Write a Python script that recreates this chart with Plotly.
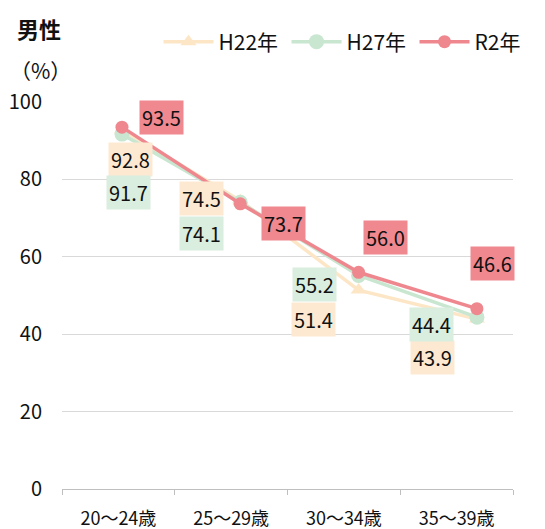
import plotly.graph_objects as go

categories = ["20～24歳", "25～29歳", "30～34歳", "35～39歳"]
series_names = ["H22年", "H27年", "R2年"]
h22 = [92.8, 74.5, 51.4, 43.9]
h27 = [91.7, 74.1, 55.2, 44.4]
r2 = [93.5, 73.7, 56.0, 46.6]
y_ticks = [0, 20, 40, 60, 80, 100]

FONT = "Noto Sans CJK JP"
line_colors = ["#fde6c6", "#c8e6d0", "#ef878f"]
box_colors = ["#fde9d2", "#d9eedf", "#f08890"]
symbols = ["triangle-up", "circle", "circle"]
msizes = [14, 15, 13]
# label offsets in pixels (x right, y up) relative to each point
offsets = [
    [(9, -30), (-39, 2), (-45, -29), (-44, -38)],
    [(7, -58), (-39, -31), (-44, -9), (-45, -7)],
    [(40, 10), (43, -20), (27, 35), (16, 45)],
]

fig = go.Figure()
idx = list(range(len(categories)))
for k, (name, vals) in enumerate(zip(series_names, [h22, h27, r2])):
    fig.add_trace(go.Scatter(
        x=idx, y=vals, name=name, mode="lines+markers",
        line=dict(color=line_colors[k], width=3.5),
        marker=dict(symbol=symbols[k], size=msizes[k], color=line_colors[k]),
        hoverinfo="skip",
    ))
    for i, v in enumerate(vals):
        dx, dy = offsets[k][i]
        fig.add_annotation(
            x=i, y=v, xref="x", yref="y", text=f"{v:.1f}", showarrow=False,
            xshift=dx, yshift=dy, bgcolor=box_colors[k], borderpad=2,
            font=dict(family=FONT, size=20, color="#111111"),
        )

# invisible trace to carry category tick labels
fig.add_trace(go.Scatter(
    x=categories, y=[0] * len(categories), xaxis="x2", mode="markers",
    marker=dict(opacity=0), showlegend=False, hoverinfo="skip",
))

fig.add_annotation(text="<b>男性</b>", xref="paper", yref="paper", x=-0.104, y=1.191,
                   xanchor="left", yanchor="middle", showarrow=False,
                   font=dict(family=FONT, size=22, color="#111111"))
fig.add_annotation(text="（%）", xref="paper", yref="paper", x=-0.12, y=1.083,
                   xanchor="left", yanchor="middle", showarrow=False,
                   font=dict(family=FONT, size=21, color="#111111"))

fig.update_layout(
    width=537, height=521,
    margin=dict(l=54, r=32, t=94, b=40, autoexpand=False),
    paper_bgcolor="white", plot_bgcolor="white",
    font=dict(family=FONT, size=18, color="#111111"),
    showlegend=True,
    legend=dict(orientation="h", x=0.214, y=1.155, xanchor="left", yanchor="middle",
                font=dict(family=FONT, size=21), itemwidth=50,
                entrywidth=63, entrywidthmode="pixels",
                tracegroupgap=0, bgcolor="rgba(0,0,0,0)"),
    xaxis=dict(range=[-0.507, 3.305], showticklabels=False, showgrid=False,
               zeroline=False, showline=False, fixedrange=True, automargin=False),
    xaxis2=dict(type="category", categoryarray=categories, range=[-0.5, 3.5],
                overlaying="x", anchor="y", side="bottom", tickson="boundaries",
                ticks="outside", ticklen=5, tickcolor="#bfbfbf", showline=True,
                linecolor="#bfbfbf", linewidth=1, showgrid=False,
                ticklabelstandoff=13, automargin=False,
                tickfont=dict(family=FONT, size=18)),
    yaxis=dict(range=[0, 100], tickvals=y_ticks, showgrid=True, gridcolor="#d9d9d9",
               gridwidth=1, zeroline=False, ticks="", tickfont=dict(family=FONT, size=20),
               ticklabelstandoff=19, automargin=False),
)

fig.write_html("out.html")
